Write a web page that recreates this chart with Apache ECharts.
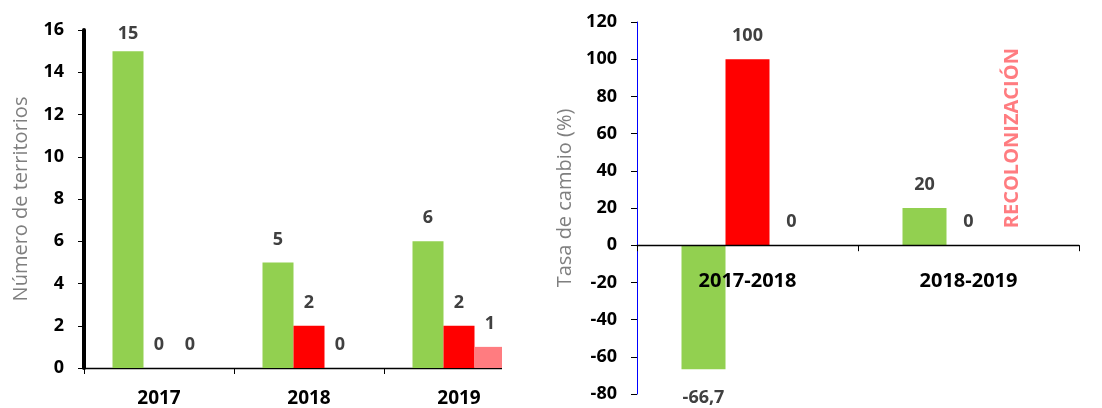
<!DOCTYPE html>
<html>
<head>
<meta charset="utf-8">
<script src="https://cdn.jsdelivr.net/npm/echarts@6/dist/echarts.min.js"></script>
<style>
  html, body { margin: 0; padding: 0; background: #fff; }
  #wrap { position: relative; width: 1102px; height: 408px; }
  #leftBox { position: absolute; left: 0; top: 0; width: 502px; height: 408px; overflow: hidden; }
  #left { width: 560px; height: 408px; }
  #right { position: absolute; left: 502px; top: 0; width: 600px; height: 408px; }
</style>
</head>
<body>
<div id="wrap">
  <div id="leftBox"><div id="left"></div></div>
  <div id="right"></div>
</div>
<script>
// left panel: number of territories
const years = ['2017', '2018', '2019'];
const terrGreen = [15, 5, 6];
const terrRed = [0, 2, 2];
const terrPink = [0, 0, 1];

// right panel: rate of change (%)
const periods = ['2017-2018', '2018-2019'];
const rateGreen = [-66.7, 20];
const rateRed = [100, 0];
const ratePink = [0, 0];
const ratePinkText = ['0', 'RECOLONIZACIÓN'];
const rateMin = -80, rateMax = 120;

const GREEN = '#92d050';
const RED = '#ff0000';
const PINK = '#ff7c80';
const FONT = '"Open Sans", sans-serif';

const labelStyle = {
  show: true,
  position: 'top',
  distance: 14,
  color: '#404040',
  fontFamily: FONT,
  fontWeight: 'bold',
  fontSize: 18,
  formatter: p => String(p.value).replace('.', ',')
};

function axisCommon() {
  return {
    axisLine: { show: true, onZero: false, lineStyle: { color: '#000', width: 1.3, opacity: 1 } },
    axisTick: { show: true, length: 6, lineStyle: { color: '#000', width: 1 } },
    splitLine: { show: false },
  };
}

function valueAxis(color, width) {
  const a = axisCommon();
  a.axisLine = { show: true, onZero: false, lineStyle: { color: color, width: width, opacity: 1 } };
  return a;
}

function bars(name, values, color, width) {
  return {
    name: name,
    type: 'bar',
    barWidth: width,
    barGap: '0%',
    itemStyle: { color: color },
    label: labelStyle,
    data: values.map(v => {
      if (v < 0) return { value: v, label: { position: 'bottom', distance: 20 } };
      return v;
    })
  };
}

// ---- left chart
const left = echarts.init(document.getElementById('left'));
const greenLeft = bars('verde', terrGreen, GREEN, 31);
// top label is squeezed inside the plot, as in the original
greenLeft.data[0] = { value: terrGreen[0], label: { distance: 8 } };
left.setOption({
  animation: false,
  grid: { left: 84, top: 30, width: 450, height: 338, outerBoundsMode: 'none' },
  xAxis: Object.assign(axisCommon(), {
    type: 'category',
    data: years,
    axisLabel: { color: '#000', fontFamily: FONT, fontWeight: 'bold', fontSize: 19, margin: 21 }
  }),
  yAxis: Object.assign(valueAxis('#000000', 4), {
    type: 'value',
    min: 0, max: 16, interval: 2,
    name: 'Número de territorios',
    nameLocation: 'middle',
    nameGap: 53,
    nameTextStyle: { color: '#7f7f7f', fontFamily: FONT, fontSize: 20 },
    axisLabel: { color: '#000', fontFamily: FONT, fontWeight: 'bold', fontSize: 18, margin: 20 }
  }),
  series: [
    greenLeft,
    bars('rojo', terrRed, RED, 31),
    bars('rosa', terrPink, PINK, 31)
  ]
});

// ---- right chart
const rightH = 372;
const right = echarts.init(document.getElementById('right'));
const pinkRight = bars('rosa', ratePink, PINK, 44);
pinkRight.data = ratePink.map((v, i) => {
  if (ratePinkText[i] === String(v)) return v;
  return {
    value: v,
    label: {
      formatter: ratePinkText[i],
      rotate: 90,
      align: 'left',
      verticalAlign: 'middle',
      distance: 17,
      color: PINK,
      fontSize: 20
    }
  };
});
right.setOption({
  animation: false,
  grid: { left: 135, top: 22, width: 442, height: rightH, outerBoundsMode: 'none' },
  xAxis: Object.assign(axisCommon(), {
    type: 'category',
    data: periods,
    z: 10,
    // category axis sits on the zero line
    offset: -rightH * (0 - rateMin) / (rateMax - rateMin),
    axisLabel: { color: '#000', fontFamily: FONT, fontWeight: 'bold', fontSize: 20, margin: 26 }
  }),
  yAxis: Object.assign(valueAxis('#0000ff', 1), {
    type: 'value',
    min: rateMin, max: rateMax, interval: 20,
    name: 'Tasa de cambio (%)',
    nameLocation: 'middle',
    nameGap: 62,
    nameTextStyle: { color: '#7f7f7f', fontFamily: FONT, fontSize: 20, padding: [0, 0, 0, 20] },
    axisLabel: { color: '#000', fontFamily: FONT, fontWeight: 'bold', fontSize: 18, margin: 20 }
  }),
  series: [
    bars('verde', rateGreen, GREEN, 44),
    bars('rojo', rateRed, RED, 44),
    pinkRight
  ]
});
</script>
</body>
</html>
